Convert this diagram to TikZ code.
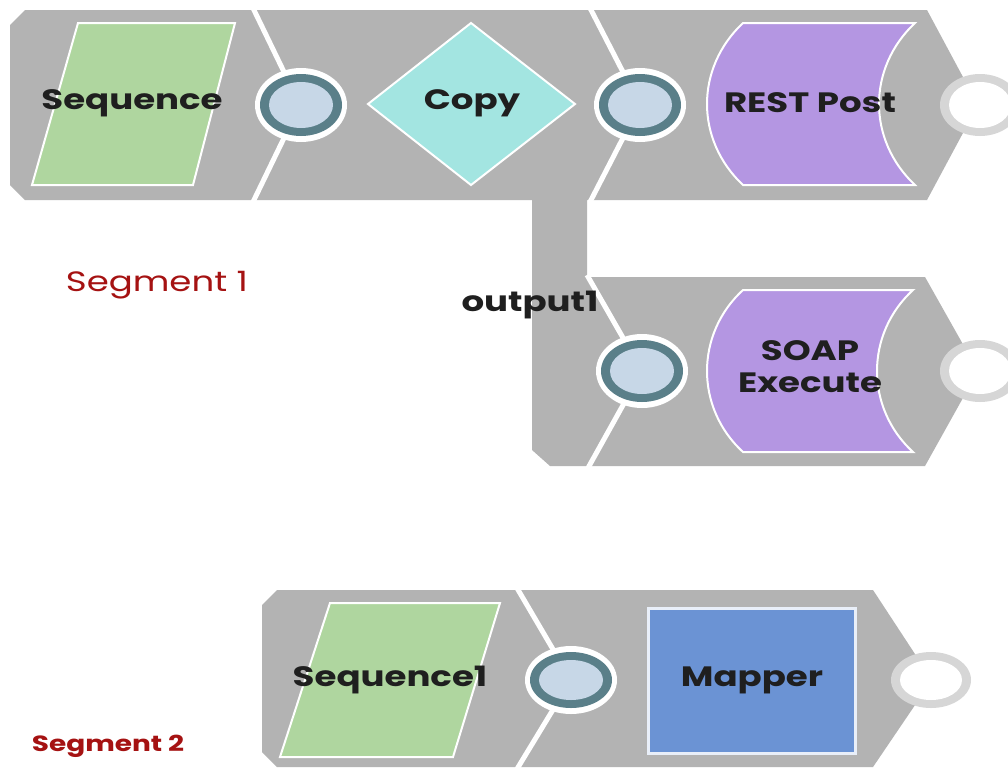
\documentclass[tikz,border=0pt]{standalone}
\usepackage{fontspec}
\setmainfont{Poppins}
\definecolor{tilegray}{HTML}{B3B3B3}
\definecolor{seqgreen}{HTML}{AFD69F}
\definecolor{copycyan}{HTML}{A3E5E1}
\definecolor{restpurple}{HTML}{B496E2}
\definecolor{mapblue}{HTML}{6B93D4}
\definecolor{ringteal}{HTML}{5A7F89}
\definecolor{portfill}{HTML}{C7D7E7}
\definecolor{outring}{HTML}{D6D6D6}
\definecolor{segred}{HTML}{A51212}
\newcommand{\sx}[1]{\scalebox{1.27}[1]{#1}}
\tikzset{
  tile/.style={fill=tilegray, draw=none},
  sep/.style={draw=white, line width=5pt, line join=round},
  shapebox/.style={draw=white, line width=2pt, line join=miter},
  lbl/.style={font=\bfseries\fontsize{28}{32}\selectfont, text=black!88, inner sep=0pt, align=center},
  seglbl/.style={text=segred, inner sep=0pt},
}
\newcommand{\inport}[3]{% center x, y, y radius
  \fill[white] (#1,#2) ellipse [x radius=46, y radius=#3+6];
  \fill[ringteal] (#1,#2) ellipse [x radius=41, y radius=#3];
  \fill[portfill] (#1,#2) ellipse [x radius=32, y radius=#3-8];
}
\newcommand{\outport}[3]{%
  \fill[outring] (#1,#2) ellipse [x radius=40, y radius=#3];
  \fill[white] (#1,#2) ellipse [x radius=31, y radius=#3-8];
}
\begin{document}
\begin{tikzpicture}[x=1pt,y=-1pt]
\useasboundingbox (0,0) rectangle (1008,771);
\fill[white] (0,0) rectangle (1008,771);

% gray tiles
\path[tile] (10,25) -- (25,10) -- (927,10) -- (978,105) -- (927,200) -- (25,200) -- (10,185) -- cycle;
\path[tile] (532,196) -- (587,196) -- (587,277) -- (925,277) -- (978,371) -- (925,466) -- (550,466) -- (532,450) -- cycle;
\path[tile] (262,605) -- (277,590) -- (873,590) -- (932,680) -- (873,767) -- (277,767) -- (262,752) -- cycle;

% white separators
\draw[sep] (253,8) -- (300,105) -- (253,202);
\draw[sep] (590,8) -- (640,105) -- (590,202);
\draw[sep] (587,275) -- (642,371) -- (588,468);
\draw[sep] (517,588) -- (571,680) -- (517,769);

% ports
\inport{301}{105}{31}
\inport{640}{105}{31}
\inport{642}{371}{31}
\inport{571}{680}{28}
\outport{980}{105}{31}
\outport{980}{371}{31}
\outport{931}{680}{28}

% snap shapes
\draw[shapebox, fill=seqgreen] (78,23) -- (235,23) -- (193,185) -- (32,185) -- cycle;
\draw[shapebox, fill=copycyan] (368,104) -- (471,23) -- (575,104) -- (471,185) -- cycle;
\draw[shapebox, fill=restpurple] (743,23) -- (915,23) .. controls (867,68) and (867,140) .. (915,185)
  -- (743,185) .. controls (695,140) and (695,68) .. (743,23) -- cycle;
\draw[shapebox, fill=restpurple] (743,290) -- (913,290) .. controls (865,334) and (865,408) .. (913,452)
  -- (743,452) .. controls (695,408) and (695,334) .. (743,290) -- cycle;
\draw[shapebox, fill=seqgreen] (330,603) -- (500,603) -- (453,757) -- (280,757) -- cycle;
\draw[draw=white!85!mapblue, line width=3pt, fill=mapblue] (648,608) rectangle (855,753);

% labels
\node[lbl] (seq) at (132,103) {\sx{Sequence}};
\node[lbl] (copy) at (472,103) {\sx{Copy}};
\node[lbl] (rest) at (810,103) {\sx{REST Post}};
\node[lbl] (soap) at (810,351) {\sx{SOAP}};
\node[lbl] (exec) at (810,383) {\sx{Execute}};
\node[lbl] (out1) at (530,305) {\sx{output1}};
\node[lbl] (seq1) at (390,680) {\sx{Sequence1}};
\node[lbl] (map) at (752,680) {\sx{Mapper}};
\node[seglbl, font=\fontsize{28}{32}\selectfont] (seg1) at (157,285) {\sx{Segment 1}};
\node[seglbl, font=\bfseries\fontsize{22}{26}\selectfont] (seg2) at (108,746) {\sx{Segment 2}};
\end{tikzpicture}
\end{document}
